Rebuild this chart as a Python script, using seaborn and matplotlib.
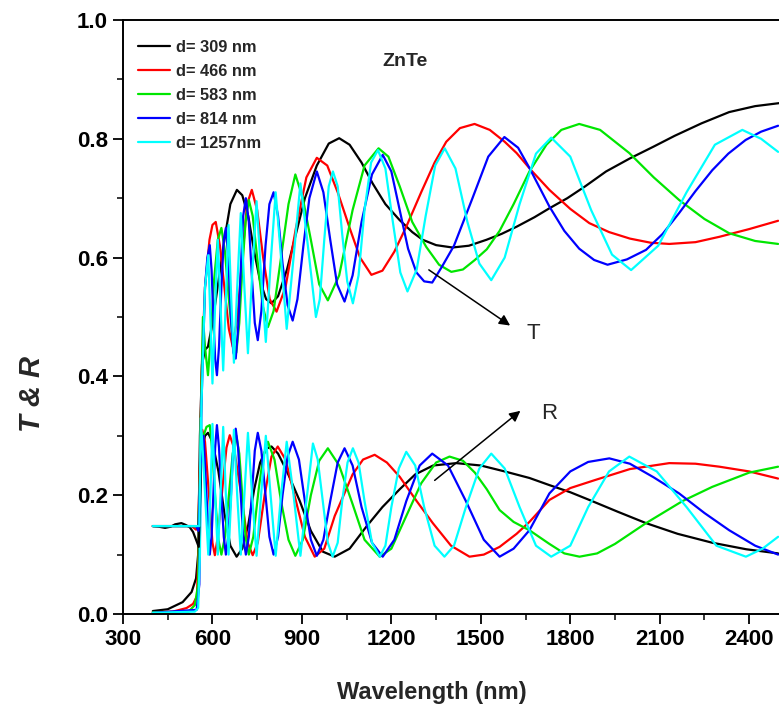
import matplotlib
matplotlib.use("Agg")
import matplotlib.pyplot as plt
import seaborn as sns
import pandas as pd

# ---------------- data ----------------
labels = ["d= 309 nm", "d= 466 nm", "d= 583 nm", "d= 814 nm", "d= 1257nm"]
colors = ["#000000", "#FF0000", "#00E600", "#0000FF", "#00FFFF"]

# Transmission
T_black_x = [400, 450, 500, 530, 545, 552, 558, 565, 575, 585, 600, 620, 640, 660, 682, 700, 720, 740, 760, 780, 798, 820, 850, 880, 910, 950, 990, 1025, 1060, 1100, 1137, 1180, 1228, 1270, 1305, 1350, 1405, 1460, 1519, 1570, 1620, 1680, 1730, 1790, 1850, 1920, 2000, 2080, 2150, 2240, 2333, 2420, 2500]
T_black_y = [0.005, 0.008, 0.02, 0.037, 0.06, 0.10, 0.30, 0.42, 0.445, 0.45, 0.49, 0.56, 0.63, 0.69, 0.714, 0.705, 0.67, 0.61, 0.56, 0.53, 0.523, 0.535, 0.58, 0.64, 0.70, 0.755, 0.792, 0.801, 0.79, 0.76, 0.725, 0.69, 0.663, 0.643, 0.63, 0.621, 0.617, 0.62, 0.63, 0.64, 0.652, 0.668, 0.683, 0.70, 0.72, 0.745, 0.767, 0.787, 0.805, 0.826, 0.845, 0.855, 0.86]

T_red_x = [400, 467, 513, 535, 548, 556, 563, 575, 590, 600, 611, 625, 640, 655, 668, 684, 700, 716, 732, 750, 770, 792, 815, 845, 880, 915, 950, 985, 1020, 1060, 1095, 1133, 1170, 1210, 1250, 1300, 1345, 1384, 1430, 1479, 1530, 1580, 1620, 1669, 1730, 1800, 1864, 1930, 2000, 2070, 2132, 2220, 2300, 2400, 2497]
T_red_y = [0.003, 0.004, 0.01, 0.017, 0.03, 0.15, 0.40, 0.55, 0.63, 0.655, 0.66, 0.62, 0.55, 0.48, 0.45, 0.50, 0.60, 0.69, 0.714, 0.68, 0.60, 0.53, 0.509, 0.55, 0.65, 0.735, 0.768, 0.755, 0.71, 0.65, 0.60, 0.571, 0.578, 0.61, 0.652, 0.71, 0.76, 0.795, 0.818, 0.825, 0.815, 0.795, 0.776, 0.747, 0.714, 0.682, 0.658, 0.643, 0.632, 0.625, 0.623, 0.626, 0.635, 0.648, 0.662]

T_green_x = [400, 520, 541, 552, 560, 568, 575, 585, 595, 605, 618, 630, 642, 655, 668, 680, 690, 700, 711, 722, 735, 750, 768, 786, 805, 830, 855, 878, 903, 930, 958, 987, 1025, 1070, 1110, 1157, 1190, 1228, 1270, 1317, 1360, 1401, 1440, 1480, 1520, 1563, 1610, 1663, 1720, 1770, 1830, 1900, 1998, 2080, 2165, 2250, 2333, 2420, 2497]
T_green_y = [0.003, 0.004, 0.015, 0.05, 0.30, 0.50, 0.45, 0.402, 0.47, 0.56, 0.63, 0.65, 0.61, 0.53, 0.46, 0.44, 0.49, 0.58, 0.66, 0.697, 0.67, 0.60, 0.52, 0.483, 0.51, 0.60, 0.69, 0.74, 0.70, 0.63, 0.555, 0.528, 0.57, 0.68, 0.755, 0.784, 0.77, 0.72, 0.66, 0.618, 0.588, 0.576, 0.58, 0.596, 0.614, 0.645, 0.69, 0.745, 0.79, 0.815, 0.825, 0.815, 0.776, 0.735, 0.697, 0.665, 0.641, 0.628, 0.623]

T_blue_x = [400, 547, 556, 563, 575, 583, 591, 597, 603, 609, 615, 622, 630, 638, 645, 653, 662, 670, 678, 686, 695, 703, 712, 722, 732, 742, 752, 764, 778, 791, 805, 820, 835, 852, 869, 885, 905, 925, 950, 972, 995, 1018, 1043, 1070, 1100, 1135, 1171, 1200, 1228, 1256, 1284, 1310, 1337, 1370, 1410, 1472, 1525, 1579, 1625, 1663, 1730, 1780, 1830, 1880, 1925, 1990, 2054, 2110, 2165, 2220, 2276, 2330, 2388, 2440, 2497]
T_blue_y = [0.002, 0.007, 0.05, 0.35, 0.55, 0.60, 0.621, 0.58, 0.50, 0.43, 0.402, 0.45, 0.55, 0.63, 0.65, 0.60, 0.50, 0.44, 0.43, 0.48, 0.58, 0.67, 0.70, 0.66, 0.57, 0.49, 0.461, 0.51, 0.62, 0.69, 0.71, 0.67, 0.59, 0.52, 0.494, 0.53, 0.62, 0.70, 0.745, 0.71, 0.63, 0.555, 0.526, 0.57, 0.66, 0.74, 0.773, 0.745, 0.68, 0.615, 0.575, 0.56, 0.558, 0.585, 0.62, 0.70, 0.77, 0.803, 0.785, 0.751, 0.686, 0.645, 0.615, 0.596, 0.588, 0.597, 0.613, 0.64, 0.675, 0.712, 0.747, 0.775, 0.798, 0.812, 0.822]

T_cyan_x = [400, 541, 552, 558, 563, 575, 586, 593, 600, 609, 618, 627, 636, 645, 654, 663, 672, 683, 695, 707, 719, 733, 748, 763, 779, 795, 812, 830, 849, 872, 895, 920, 947, 960, 975, 990, 1004, 1020, 1035, 1052, 1071, 1090, 1110, 1132, 1155, 1180, 1205, 1230, 1254, 1285, 1315, 1347, 1379, 1415, 1455, 1495, 1535, 1580, 1630, 1685, 1736, 1800, 1870, 1940, 2004, 2095, 2190, 2285, 2377, 2440, 2497]
T_cyan_y = [0.002, 0.004, 0.01, 0.10, 0.35, 0.55, 0.604, 0.50, 0.388, 0.52, 0.63, 0.52, 0.41, 0.53, 0.655, 0.53, 0.423, 0.55, 0.675, 0.55, 0.439, 0.57, 0.695, 0.57, 0.458, 0.59, 0.71, 0.60, 0.48, 0.60, 0.725, 0.62, 0.50, 0.53, 0.63, 0.72, 0.745, 0.72, 0.64, 0.56, 0.523, 0.57, 0.68, 0.76, 0.781, 0.75, 0.66, 0.575, 0.543, 0.58, 0.67, 0.755, 0.784, 0.75, 0.66, 0.59, 0.562, 0.60, 0.69, 0.775, 0.802, 0.77, 0.68, 0.605, 0.579, 0.62, 0.71, 0.79, 0.815, 0.80, 0.778]

# Reflection
R_black_x = [400, 420, 441, 460, 475, 496, 510, 524, 535, 545, 554, 558, 563, 575, 585, 600, 620, 640, 660, 681, 700, 720, 740, 760, 780, 798, 820, 850, 893, 930, 970, 1010, 1060, 1116, 1170, 1228, 1280, 1340, 1418, 1500, 1580, 1663, 1730, 1800, 1864, 1960, 2054, 2160, 2276, 2390, 2497]
R_black_y = [0.148, 0.147, 0.145, 0.147, 0.151, 0.153, 0.15, 0.146, 0.138, 0.125, 0.113, 0.18, 0.27, 0.30, 0.305, 0.29, 0.24, 0.17, 0.115, 0.0965, 0.11, 0.15, 0.21, 0.255, 0.278, 0.282, 0.27, 0.24, 0.19, 0.14, 0.105, 0.0965, 0.11, 0.147, 0.18, 0.21, 0.235, 0.25, 0.254, 0.25, 0.24, 0.229, 0.217, 0.205, 0.192, 0.172, 0.153, 0.135, 0.12, 0.109, 0.102]

R_red_x = [400, 530, 545, 552, 558, 566, 575, 590, 600, 608, 618, 635, 647, 658, 672, 700, 718, 735, 752, 775, 798, 819, 845, 880, 910, 943, 975, 1010, 1070, 1105, 1144, 1185, 1228, 1285, 1339, 1400, 1462, 1510, 1563, 1620, 1663, 1730, 1800, 1886, 2000, 2132, 2220, 2300, 2400, 2497]
R_red_y = [0.148, 0.148, 0.142, 0.145, 0.25, 0.31, 0.29, 0.19, 0.12, 0.099, 0.13, 0.22, 0.28, 0.301, 0.28, 0.19, 0.12, 0.099, 0.12, 0.20, 0.265, 0.282, 0.26, 0.19, 0.13, 0.0965, 0.11, 0.165, 0.235, 0.26, 0.268, 0.255, 0.231, 0.19, 0.153, 0.115, 0.0965, 0.10, 0.113, 0.135, 0.155, 0.192, 0.212, 0.226, 0.244, 0.254, 0.253, 0.248, 0.24, 0.228]

R_green_x = [400, 540, 552, 560, 570, 580, 591, 600, 610, 620, 630, 642, 655, 668, 680, 690, 700, 711, 722, 737, 755, 770, 786, 808, 830, 855, 878, 903, 930, 958, 987, 1025, 1070, 1110, 1161, 1200, 1250, 1300, 1350, 1395, 1440, 1480, 1520, 1563, 1610, 1663, 1730, 1780, 1831, 1890, 1950, 2054, 2176, 2276, 2400, 2497]
R_green_y = [0.148, 0.148, 0.145, 0.25, 0.30, 0.315, 0.318, 0.27, 0.19, 0.125, 0.10, 0.13, 0.20, 0.27, 0.30, 0.27, 0.20, 0.13, 0.10, 0.13, 0.21, 0.265, 0.29, 0.26, 0.19, 0.125, 0.098, 0.125, 0.20, 0.258, 0.279, 0.25, 0.185, 0.125, 0.0965, 0.11, 0.165, 0.22, 0.255, 0.265, 0.258, 0.238, 0.21, 0.175, 0.155, 0.141, 0.118, 0.102, 0.0965, 0.102, 0.118, 0.153, 0.19, 0.214, 0.238, 0.248]

R_blue_x = [400, 545, 553, 560, 570, 580, 591, 597, 603, 609, 615, 622, 630, 638, 645, 653, 662, 670, 678, 686, 695, 703, 712, 722, 732, 742, 752, 764, 778, 791, 805, 820, 835, 852, 869, 890, 910, 930, 950, 972, 995, 1020, 1043, 1070, 1100, 1135, 1171, 1210, 1250, 1295, 1337, 1390, 1450, 1510, 1563, 1610, 1663, 1730, 1800, 1860, 1931, 2000, 2080, 2165, 2250, 2333, 2420, 2497]
R_blue_y = [0.148, 0.148, 0.14, 0.25, 0.30, 0.20, 0.10, 0.13, 0.20, 0.28, 0.318, 0.28, 0.20, 0.13, 0.10, 0.13, 0.20, 0.28, 0.312, 0.28, 0.20, 0.13, 0.10, 0.13, 0.20, 0.275, 0.305, 0.275, 0.20, 0.13, 0.10, 0.13, 0.20, 0.265, 0.29, 0.26, 0.19, 0.125, 0.098, 0.125, 0.19, 0.255, 0.279, 0.25, 0.18, 0.12, 0.0965, 0.125, 0.19, 0.25, 0.27, 0.25, 0.19, 0.125, 0.0965, 0.11, 0.141, 0.203, 0.24, 0.256, 0.262, 0.253, 0.23, 0.203, 0.17, 0.141, 0.115, 0.10]

R_cyan_x = [400, 556, 561, 570, 586, 593, 600, 609, 618, 627, 636, 645, 654, 663, 672, 683, 695, 707, 719, 733, 748, 763, 779, 795, 812, 830, 849, 872, 895, 915, 937, 953, 970, 987, 1003, 1020, 1035, 1053, 1071, 1090, 1110, 1135, 1161, 1180, 1200, 1225, 1250, 1280, 1310, 1345, 1378, 1410, 1450, 1495, 1535, 1580, 1630, 1685, 1736, 1800, 1860, 1930, 1998, 2090, 2190, 2290, 2389, 2445, 2497]
R_cyan_y = [0.148, 0.148, 0.33, 0.25, 0.10, 0.20, 0.32, 0.20, 0.10, 0.20, 0.315, 0.20, 0.10, 0.20, 0.31, 0.20, 0.10, 0.20, 0.305, 0.20, 0.098, 0.20, 0.30, 0.20, 0.098, 0.20, 0.29, 0.20, 0.098, 0.19, 0.287, 0.26, 0.19, 0.12, 0.0965, 0.12, 0.19, 0.255, 0.279, 0.255, 0.19, 0.12, 0.0965, 0.115, 0.18, 0.245, 0.273, 0.25, 0.18, 0.115, 0.0965, 0.115, 0.18, 0.245, 0.27, 0.245, 0.18, 0.115, 0.0965, 0.115, 0.18, 0.24, 0.265, 0.24, 0.18, 0.115, 0.0965, 0.11, 0.13]

x_ticks = [300, 600, 900, 1200, 1500, 1800, 2100, 2400]
y_ticks = [0.0, 0.2, 0.4, 0.6, 0.8, 1.0]

T_series = [(T_black_x, T_black_y), (T_red_x, T_red_y), (T_green_x, T_green_y),
            (T_blue_x, T_blue_y), (T_cyan_x, T_cyan_y)]
R_series = [(R_black_x, R_black_y), (R_red_x, R_red_y), (R_green_x, R_green_y),
            (R_blue_x, R_blue_y), (R_cyan_x, R_cyan_y)]

# ---------------- figure ----------------
sns.set_style("white")
plt.rcParams['font.family'] = ['Liberation Sans', 'DejaVu Sans']

fig = plt.figure(figsize=(7.79, 7.15), dpi=100)
ax = fig.add_axes([123/779, 1 - 614/715, 1 - 123/779, (614 - 20)/715])

for (xs, ys), c, lab in zip(T_series, colors, labels):
    df = pd.DataFrame({"Wavelength": xs, "value": ys})
    sns.lineplot(data=df, x="Wavelength", y="value", color=c, lw=1.6,
                 estimator=None, sort=False, ax=ax, label=lab)
for (xs, ys), c in zip(R_series, colors):
    df = pd.DataFrame({"Wavelength": xs, "value": ys})
    sns.lineplot(data=df, x="Wavelength", y="value", color=c, lw=1.6,
                 estimator=None, sort=False, ax=ax, legend=False)

ax.set_xlim(300, 2500)
ax.set_ylim(0, 1.0)
ax.set_xticks(x_ticks)
ax.set_xticks([450, 750, 1050, 1350, 1650, 1950, 2250], minor=True)
ax.set_yticks(y_ticks)
ax.set_yticks([0.1, 0.3, 0.5, 0.7, 0.9], minor=True)
ax.set_xticklabels([str(v) for v in x_ticks])
ax.set_yticklabels([f"{v:.1f}" for v in y_ticks])
for lbl in ax.get_xticklabels() + ax.get_yticklabels():
    lbl.set_fontweight('bold')
    lbl.set_fontsize(16)

ax.tick_params(axis='both', which='major', direction='out', length=7, width=1.3,
               bottom=True, left=True, top=False, right=False, pad=4, colors='black')
ax.tick_params(axis='both', which='minor', direction='out', length=4, width=1.3,
               bottom=True, left=True, top=False, right=False)
ax.spines['right'].set_visible(False)
for s in ['left', 'bottom', 'top']:
    ax.spines[s].set_color('black')
    ax.spines[s].set_linewidth(1.4)

ax.set_xlabel("Wavelength (nm)", fontsize=17, fontweight='bold')
ax.set_ylabel("T & R", fontsize=21, fontweight='bold', style='italic')
ax.xaxis.set_label_coords(0.471, -0.112)
ax.yaxis.set_label_coords(-0.118, 0.37)

leg = ax.legend(loc='upper left', bbox_to_anchor=(0.023, 0.967), frameon=False,
                prop={'weight': 'bold', 'size': 11.8}, handlelength=1.95,
                handletextpad=0.37, labelspacing=0.55, borderaxespad=0.0, borderpad=0.0)
for line in leg.get_lines():
    line.set_linewidth(1.6)

ax.text(1245, 0.930, "ZnTe", ha='center', va='center', fontsize=14, fontweight='bold')

ax.annotate("", xy=(1606, 0.483), xytext=(1318, 0.582),
            arrowprops=dict(arrowstyle='-|>', color='black', lw=1.1, mutation_scale=16))
ax.text(1653, 0.473, "T", fontsize=16, ha='left', va='center')
ax.annotate("", xy=(1640, 0.345), xytext=(1338, 0.222),
            arrowprops=dict(arrowstyle='-|>', color='black', lw=1.1, mutation_scale=16))
ax.text(1703, 0.338, "R", fontsize=16, ha='left', va='center')

fig.savefig("out.png", dpi=100)
